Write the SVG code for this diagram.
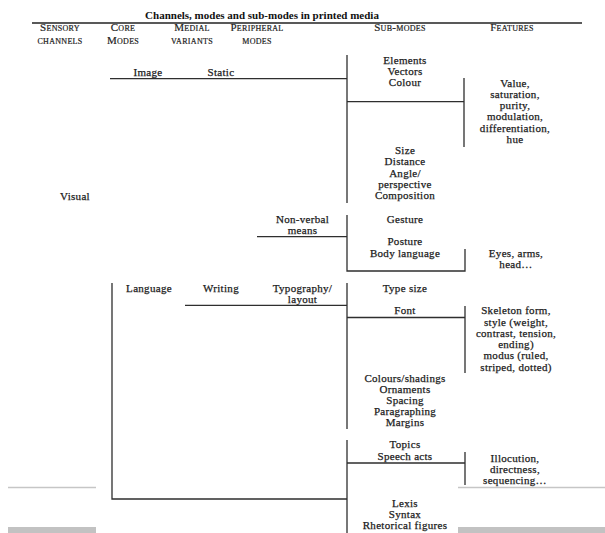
<svg xmlns="http://www.w3.org/2000/svg" width="605" height="533" viewBox="0 0 605 533">
<style>
.t{font-family:"Liberation Serif","Times New Roman",serif;font-size:11px;letter-spacing:0.3px;fill:#1c1c1c;stroke:#1c1c1c;stroke-width:0.25;text-anchor:middle}
.ttl{font-family:"Liberation Serif","Times New Roman",serif;font-size:11px;font-weight:bold;fill:#111;text-anchor:middle}
.h{font-family:"Liberation Serif","Times New Roman",serif;font-size:11px;letter-spacing:0.3px;font-variant:small-caps;fill:#1c1c1c;stroke:#1c1c1c;stroke-width:0.2;text-anchor:middle}
.c{fill:none;stroke:#2e2e2e;stroke-width:1.3}
.g{fill:none;stroke:#c6c6c6;stroke-width:1.5}
.gb{fill:#c2c2c2}
</style>
<rect width="605" height="533" fill="#fff"/>
<g id="title">
<text class="ttl" x="262" y="19">Channels, modes and sub-modes in printed media</text>
<line x1="32" y1="23" x2="582" y2="23" stroke="#222" stroke-width="1.6"/>
</g>
<g id="headers">
<text class="h" x="60" y="31">Sensory<tspan x="60" dy="12.5">channels</tspan></text>
<text class="h" x="123" y="31">Core<tspan x="123" dy="12.5">Modes</tspan></text>
<text class="h" x="192" y="31">Medial<tspan x="192" dy="12.5">variants</tspan></text>
<text class="h" x="257" y="31">Peripheral<tspan x="257" dy="12.5">modes</tspan></text>
<text class="h" x="400" y="31">Sub-modes</text>
<text class="h" x="512" y="31">Features</text>
</g>
<g id="connectors">
<path class="c" d="M110,78.7H347"/>
<path class="c" d="M347,55V203"/>
<path class="c" d="M347,101.7H464M464,78V147"/>
<path class="c" d="M347,215V271H465V249"/>
<path class="c" d="M257,236.7H347"/>
<path class="c" d="M347,283V429"/>
<path class="c" d="M185,305.3H347"/>
<path class="c" d="M347,317.5H465M465,306V373"/>
<path class="c" d="M347,440V533"/>
<path class="c" d="M347,463H465M465,452V485"/>
<path class="c" d="M112,283V499H347"/>
</g>
<g id="visual"><text class="t" x="75" y="200">Visual</text></g>
<g id="image"><text class="t" x="148" y="76">Image</text></g>
<g id="static"><text class="t" x="221" y="76">Static</text></g>
<g id="language"><text class="t" x="149" y="291.5">Language</text></g>
<g id="writing"><text class="t" x="221" y="291.5">Writing</text></g>
<g id="typography"><text class="t" x="302.5" y="291.5">Typography/<tspan x="302.5" dy="11">layout</tspan></text></g>
<g id="nonverbal"><text class="t" x="302.5" y="222.5">Non-verbal<tspan x="302.5" dy="11">means</tspan></text></g>
<g id="sub-elements"><text class="t" x="405" y="64">Elements<tspan x="405" dy="11">Vectors</tspan><tspan x="405" dy="11">Colour</tspan></text></g>
<g id="feat-colour"><text class="t" x="515" y="86.7">Value,<tspan x="515" dy="11.2">saturation,</tspan><tspan x="515" dy="11.2">purity,</tspan><tspan x="515" dy="11.2">modulation,</tspan><tspan x="515" dy="11.2">differentiation,</tspan><tspan x="515" dy="11.2">hue</tspan></text></g>
<g id="sub-size"><text class="t" x="405" y="154">Size<tspan x="405" dy="11.25">Distance</tspan><tspan x="405" dy="11.25">Angle/</tspan><tspan x="405" dy="11.25">perspective</tspan><tspan x="405" dy="11.25">Composition</tspan></text></g>
<g id="sub-gesture"><text class="t" x="405" y="222.5">Gesture</text></g>
<g id="sub-posture"><text class="t" x="405" y="245">Posture<tspan x="405" dy="11.5">Body language</tspan></text></g>
<g id="feat-body"><text class="t" x="516" y="256.5">Eyes, arms,<tspan x="516" dy="11">head…</tspan></text></g>
<g id="sub-typesize"><text class="t" x="405" y="291.5">Type size</text></g>
<g id="sub-font"><text class="t" x="405" y="314.3">Font</text></g>
<g id="feat-font"><text class="t" x="516" y="314.3">Skeleton form,<tspan x="516" dy="11.25">style (weight,</tspan><tspan x="516" dy="11.25">contrast, tension,</tspan><tspan x="516" dy="11.25">ending)</tspan><tspan x="516" dy="11.25">modus (ruled,</tspan><tspan x="516" dy="11.25">striped, dotted)</tspan></text></g>
<g id="sub-colours"><text class="t" x="405" y="381.5">Colours/shadings<tspan x="405" dy="11">Ornaments</tspan><tspan x="405" dy="11">Spacing</tspan><tspan x="405" dy="11">Paragraphing</tspan><tspan x="405" dy="11">Margins</tspan></text></g>
<g id="sub-topics"><text class="t" x="405" y="448">Topics<tspan x="405" dy="11.5">Speech acts</tspan></text></g>
<g id="feat-speech"><text class="t" x="515" y="462">Illocution,<tspan x="515" dy="11">directness,</tspan><tspan x="515" dy="11">sequencing…</tspan></text></g>
<g id="sub-lexis"><text class="t" x="405" y="507">Lexis<tspan x="405" dy="11">Syntax</tspan><tspan x="405" dy="11">Rhetorical figures</tspan></text></g>
<g id="page-edges">
<path class="g" d="M8,487.5H96M458,487.5H605"/>
<rect class="gb" x="8" y="527" width="88" height="6"/>
<rect class="gb" x="458" y="527" width="147" height="6"/>
</g>
</svg>
